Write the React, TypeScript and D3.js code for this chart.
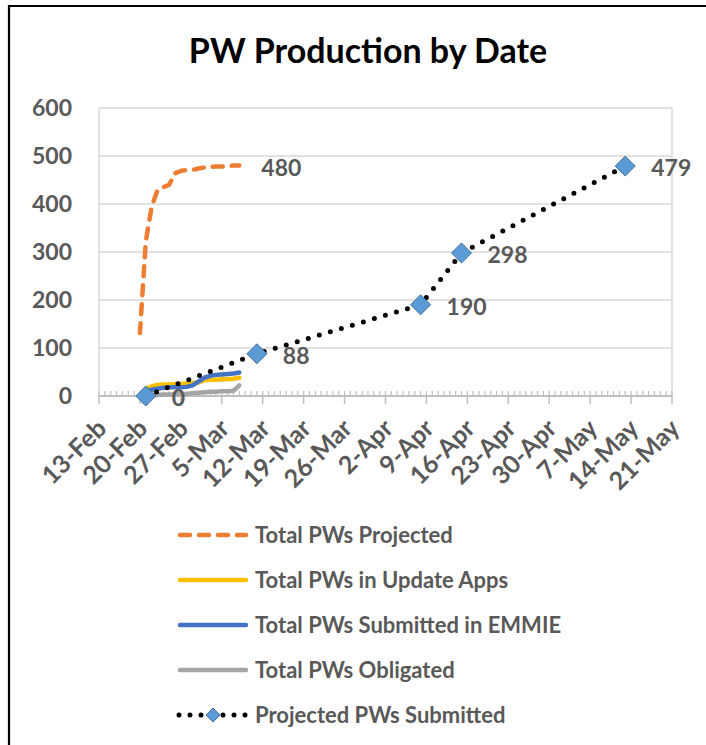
import React, { useEffect, useRef } from 'react';
import * as d3 from 'd3';

// chart text
const chartTitle = 'PW Production by Date';
const yTicks = [0, 100, 200, 300, 400, 500, 600];
const xTickLabels = ['13-Feb', '20-Feb', '27-Feb', '5-Mar', '12-Mar', '19-Mar', '26-Mar', '2-Apr', '9-Apr', '16-Apr', '23-Apr', '30-Apr', '7-May', '14-May', '21-May'];

// series: Total PWs Projected
const projectedDates = ['2020-02-20', '2020-02-21', '2020-02-22', '2020-02-23', '2020-02-24', '2020-02-25', '2020-02-26', '2020-02-27', '2020-02-28', '2020-02-29', '2020-03-01', '2020-03-02', '2020-03-03', '2020-03-04', '2020-03-05', '2020-03-06', '2020-03-07', '2020-03-08'];
const projectedValues = [131, 322, 394, 429, 435, 440, 464, 469, 471, 471, 474, 476, 477, 478, 478, 479, 480, 480];

// series: update apps / submitted in EMMIE / obligated
const actualDates = ['2020-02-21', '2020-02-22', '2020-02-23', '2020-02-24', '2020-02-25', '2020-02-26', '2020-02-27', '2020-02-28', '2020-02-29', '2020-03-01', '2020-03-02', '2020-03-03', '2020-03-04', '2020-03-05', '2020-03-06', '2020-03-07', '2020-03-08'];
const updateAppsValues = [15, 20, 23, 24, 24, 25, 25, 26, 27, 28, 33, 34, 34, 35, 35, 36, 38];
const submittedValues = [10, 13, 15, 17, 18, 18, 18, 19, 22, 30, 38, 42, 44, 45, 46, 47, 49];
const obligatedValues = [1, 2, 2, 3, 3, 3, 4, 4, 6, 7, 8, 9, 9, 10, 10, 11, 22];

// series: Projected PWs Submitted
const submittedPlanDates = ['2020-02-21', '2020-03-11', '2020-04-08', '2020-04-15', '2020-05-13'];
const submittedPlanValues = [0, 88, 190, 298, 479];

const legendNames = ['Total PWs Projected', 'Total PWs in Update Apps', 'Total PWs Submitted in EMMIE', 'Total PWs Obligated', 'Projected PWs Submitted'];
const seriesColors = ['#ED7D31', '#FFC000', '#4472C4', '#A5A5A5', '#000000'];

const FONT = "Lato, 'Open Sans', sans-serif";
const LABEL = '#595959';

const App = () => {
  const ref = useRef<SVGSVGElement>(null);

  useEffect(() => {
    const svg = d3.select(ref.current);
    svg.selectAll('*').remove();

    const width = 706;
    const height = 745;
    const plot = { left: 99, right: 672, top: 108, bottom: 396 };

    const parse = d3.utcParse('%Y-%m-%d');

    // outer frame
    svg.append('rect').attr('width', width).attr('height', height).attr('fill', '#fff');
    svg.append('path')
      .attr('d', `M9,${height} V6 H${width}`)
      .attr('fill', 'none')
      .attr('stroke', '#000')
      .attr('stroke-width', 2.2);

    svg.append('text')
      .attr('x', 368)
      .attr('y', 63)
      .attr('text-anchor', 'middle')
      .attr('font-family', FONT)
      .attr('font-weight', 'bold')
      .attr('font-size', 34)
      .attr('fill', '#000')
      .text(chartTitle);

    const xScale = d3.scaleUtc()
      .domain([parse('2020-02-13')!, parse('2020-05-21')!])
      .range([plot.left, plot.right]);

    const yScale = d3.scaleLinear()
      .domain([0, 600])
      .range([plot.bottom, plot.top]);

    // gridlines
    svg.append('g')
      .selectAll('line')
      .data(yTicks.filter((d) => d > 0))
      .enter()
      .append('line')
      .attr('x1', plot.left)
      .attr('x2', plot.right)
      .attr('y1', (d) => yScale(d))
      .attr('y2', (d) => yScale(d))
      .attr('stroke', '#D9D9D9')
      .attr('stroke-width', 1.5);

    // plot border sides
    svg.append('line')
      .attr('x1', plot.left).attr('x2', plot.left)
      .attr('y1', plot.top).attr('y2', plot.bottom)
      .attr('stroke', '#D9D9D9').attr('stroke-width', 1.5);
    svg.append('line')
      .attr('x1', plot.right).attr('x2', plot.right)
      .attr('y1', plot.top).attr('y2', plot.bottom)
      .attr('stroke', '#D9D9D9').attr('stroke-width', 1.5);

    // y labels
    svg.append('g')
      .selectAll('text')
      .data(yTicks)
      .enter()
      .append('text')
      .attr('x', 72)
      .attr('y', (d) => yScale(d))
      .attr('dy', '0.36em')
      .attr('text-anchor', 'end')
      .attr('font-family', FONT)
      .attr('font-weight', 'bold')
      .attr('font-size', 23)
      .attr('fill', LABEL)
      .text((d) => d);

    // x axis: daily minor ticks up, weekly major ticks down
    const days = d3.utcDay.range(xScale.domain()[0], d3.utcDay.offset(xScale.domain()[1], 1));
    const weeks = days.filter((d, i) => i % 7 === 0);
    const axisG = svg.append('g');
    axisG.append('line')
      .attr('x1', plot.left).attr('x2', plot.right)
      .attr('y1', plot.bottom).attr('y2', plot.bottom)
      .attr('stroke', '#BFBFBF').attr('stroke-width', 2);
    axisG.selectAll('.minor')
      .data(days)
      .enter()
      .append('line')
      .attr('x1', (d) => xScale(d)).attr('x2', (d) => xScale(d))
      .attr('y1', plot.bottom).attr('y2', plot.bottom - 5)
      .attr('stroke', '#BFBFBF').attr('stroke-width', 1.2);
    axisG.selectAll('.major')
      .data(weeks)
      .enter()
      .append('line')
      .attr('x1', (d) => xScale(d)).attr('x2', (d) => xScale(d))
      .attr('y1', plot.bottom).attr('y2', plot.bottom + 8)
      .attr('stroke', '#BFBFBF').attr('stroke-width', 1.5);
    axisG.selectAll('text')
      .data(weeks)
      .enter()
      .append('text')
      .attr('transform', (d) => `translate(${xScale(d) + 9},${plot.bottom + 34}) rotate(-45)`)
      .attr('text-anchor', 'end')
      .attr('font-family', FONT)
      .attr('font-weight', 'bold')
      .attr('font-size', 25)
      .attr('fill', LABEL)
      .text((d, i) => xTickLabels[i]);

    const line = d3.line<[Date, number]>()
      .x((d) => xScale(d[0]))
      .y((d) => yScale(d[1]));

    const zip = (dates: string[], vals: number[]) => dates.map((d, i) => [parse(d)!, vals[i]] as [Date, number]);

    const projected = zip(projectedDates, projectedValues);
    svg.append('path')
      .attr('d', line(projected))
      .attr('fill', 'none')
      .attr('stroke', seriesColors[0])
      .attr('stroke-width', 4.5)
      .attr('stroke-linecap', 'round')
      .attr('stroke-dasharray', '10 9');

    [updateAppsValues, submittedValues, obligatedValues].forEach((vals, i) => {
      svg.append('path')
        .attr('d', line(zip(actualDates, vals)))
        .attr('fill', 'none')
        .attr('stroke', seriesColors[i + 1])
        .attr('stroke-width', 4.5)
        .attr('stroke-linejoin', 'round')
        .attr('stroke-linecap', 'round');
    });

    const plan = zip(submittedPlanDates, submittedPlanValues);
    svg.append('path')
      .attr('d', line(plan))
      .attr('fill', 'none')
      .attr('stroke', '#000')
      .attr('stroke-width', 5)
      .attr('stroke-linecap', 'round')
      .attr('stroke-dasharray', '0 11.5');

    const diamond = (s: number) => `M0,${-s} L${s},0 L0,${s} L${-s},0 Z`;
    svg.append('g')
      .selectAll('path')
      .data(plan)
      .enter()
      .append('path')
      .attr('transform', (d) => `translate(${xScale(d[0])},${yScale(d[1])})`)
      .attr('d', diamond(10))
      .attr('fill', '#5B9BD5')
      .attr('stroke', '#41719C')
      .attr('stroke-width', 1);

    // data labels
    const labelStyle = (sel: any) => sel
      .attr('font-family', FONT)
      .attr('font-weight', 'bold')
      .attr('font-size', 23)
      .attr('fill', LABEL)
      .attr('dy', '0.36em');

    svg.append('g')
      .selectAll('text')
      .data(plan)
      .enter()
      .append('text')
      .attr('x', (d) => xScale(d[0]) + 26)
      .attr('y', (d) => yScale(d[1]) + 2)
      .call(labelStyle)
      .text((d) => d[1]);

    const lastProj = projected[projected.length - 1];
    svg.append('text')
      .attr('x', xScale(lastProj[0]) + 22)
      .attr('y', yScale(lastProj[1]) + 2)
      .call(labelStyle)
      .text(lastProj[1]);

    // legend
    const legend = svg.append('g');
    legendNames.forEach((name, i) => {
      const y = 535 + i * 45;
      const row = legend.append('g');
      if (i === 4) {
        row.append('line')
          .attr('x1', 179).attr('x2', 246).attr('y1', y).attr('y2', y)
          .attr('stroke', '#000').attr('stroke-width', 5)
          .attr('stroke-linecap', 'round').attr('stroke-dasharray', '0 11');
        row.append('path')
          .attr('transform', `translate(213,${y})`)
          .attr('d', diamond(7))
          .attr('fill', '#5B9BD5').attr('stroke', '#41719C').attr('stroke-width', 1);
      } else {
        row.append('line')
          .attr('x1', 180).attr('x2', 246).attr('y1', y).attr('y2', y)
          .attr('stroke', seriesColors[i]).attr('stroke-width', 4.5)
          .attr('stroke-linecap', 'round')
          .attr('stroke-dasharray', i === 0 ? '10 9' : null);
      }
      row.append('text')
        .attr('x', 255)
        .attr('y', y)
        .attr('dy', '0.36em')
        .attr('font-family', FONT)
        .attr('font-weight', 'bold')
        .attr('font-size', 22)
        .attr('fill', LABEL)
        .text(name);
    });
  }, []);

  return (
    <div style={{ position: 'absolute', left: 0, top: 0 }}>
      <svg ref={ref} width={706} height={745} style={{ display: 'block' }}></svg>
    </div>
  );
};

export default App;
